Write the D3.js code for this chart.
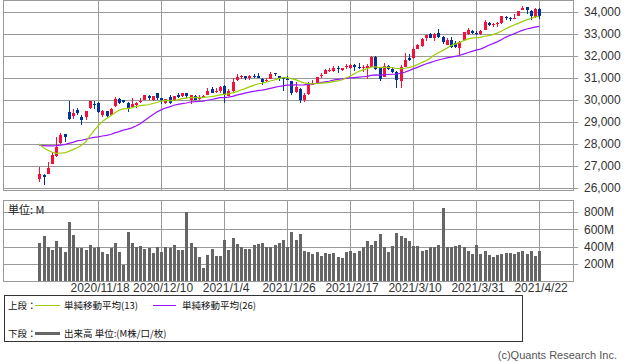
<!DOCTYPE html>
<html>
<head>
<meta charset="utf-8">
<script src="https://cdn.jsdelivr.net/npm/d3@7"></script>
<style>
body { margin: 0; background: #fff; }
svg { display: block; font-family: "Liberation Sans", Arial, sans-serif; }
</style>
</head>
<body>
<div id="chart"></div>
<script>
// trading days shown on the chart
var dates = [
  "2020/10/29", "2020/10/30", "2020/11/2", "2020/11/3", "2020/11/4", "2020/11/5", "2020/11/6", "2020/11/9", "2020/11/10", "2020/11/11",
  "2020/11/12", "2020/11/13", "2020/11/16", "2020/11/17", "2020/11/18", "2020/11/19", "2020/11/20", "2020/11/23", "2020/11/24", "2020/11/25",
  "2020/11/27", "2020/11/30", "2020/12/1", "2020/12/2", "2020/12/3", "2020/12/4", "2020/12/7", "2020/12/8", "2020/12/9", "2020/12/10",
  "2020/12/11", "2020/12/14", "2020/12/15", "2020/12/16", "2020/12/17", "2020/12/18", "2020/12/21", "2020/12/22", "2020/12/23", "2020/12/24",
  "2020/12/28", "2020/12/29", "2020/12/30", "2020/12/31", "2021/1/4", "2021/1/5", "2021/1/6", "2021/1/7", "2021/1/8", "2021/1/11",
  "2021/1/12", "2021/1/13", "2021/1/14", "2021/1/15", "2021/1/19", "2021/1/20", "2021/1/21", "2021/1/22", "2021/1/25", "2021/1/26",
  "2021/1/27", "2021/1/28", "2021/1/29", "2021/2/1", "2021/2/2", "2021/2/3", "2021/2/4", "2021/2/5", "2021/2/8", "2021/2/9",
  "2021/2/10", "2021/2/11", "2021/2/12", "2021/2/16", "2021/2/17", "2021/2/18", "2021/2/19", "2021/2/22", "2021/2/23", "2021/2/24",
  "2021/2/25", "2021/2/26", "2021/3/1", "2021/3/2", "2021/3/3", "2021/3/4", "2021/3/5", "2021/3/8", "2021/3/9", "2021/3/10",
  "2021/3/11", "2021/3/12", "2021/3/15", "2021/3/16", "2021/3/17", "2021/3/18", "2021/3/19", "2021/3/22", "2021/3/23", "2021/3/24",
  "2021/3/25", "2021/3/26", "2021/3/29", "2021/3/30", "2021/3/31", "2021/4/1", "2021/4/5", "2021/4/6", "2021/4/7", "2021/4/8",
  "2021/4/9", "2021/4/12", "2021/4/13", "2021/4/14", "2021/4/15", "2021/4/16", "2021/4/19", "2021/4/20", "2021/4/21", "2021/4/22"
]

var opens = [
  26400, 26580, 26640, 27090, 27470, 28060, 28440, 29470, 29270, 29545,
  29240, 29210, 29650, 29820, 29850, 29320, 29510, 29320, 29730, 30040,
  29990, 29880, 29700, 29790, 29900, 30000, 30200, 29990, 30300, 30070,
  29850, 30150, 29950, 30250, 30200, 30300, 30000, 30200, 30030, 30150,
  30250, 30500, 30350, 30420, 30630, 30200, 30400, 30900, 31040, 31080,
  30990, 31100, 31100, 30950, 30850, 30960, 31220, 31100, 31000, 30970,
  30850, 30350, 30500, 30000, 30260, 30700, 30780, 31120, 31170, 31360,
  31300, 31450, 31380, 31500, 31450, 31600, 31520, 31470, 31450, 31520,
  31960, 31500, 31060, 31560, 31400, 31280, 30850, 31500, 31900, 31900,
  32330, 32450, 32800, 32990, 32800, 33030, 32880, 32500, 32730, 32580,
  32350, 32730, 33000, 33150, 33060, 32990, 33180, 33480, 33420, 33440,
  33510, 33780, 33740, 33690, 33810, 34090, 34210, 34050, 33780, 34140
]

var highs = [
  26963, 26650, 27190, 27640, 28300, 28480, 28460, 29950, 29600, 29620,
  29320, 29520, 29965, 29950, 29900, 29530, 29520, 29630, 30120, 30080,
  30010, 29900, 30080, 29900, 30070, 30220, 30240, 30190, 30320, 30100,
  30060, 30250, 30200, 30300, 30330, 30310, 30230, 30250, 30240, 30230,
  30530, 30600, 30530, 30640, 30670, 30490, 31020, 31190, 31140, 31100,
  31150, 31200, 31220, 30980, 31010, 31260, 31250, 31110, 31050, 31070,
  30880, 30800, 30560, 30300, 30810, 30910, 31060, 31230, 31410, 31440,
  31550, 31530, 31460, 31650, 31650, 31620, 31670, 31580, 31620, 31980,
  32010, 31520, 31660, 31600, 31500, 31300, 31580, 32150, 32090, 32390,
  32550, 32800, 32960, 33050, 33050, 33230, 32900, 32800, 32870, 32700,
  32700, 33100, 33260, 33200, 33150, 33170, 33620, 33560, 33510, 33530,
  33810, 33810, 33760, 33930, 34060, 34260, 34240, 34080, 34160, 34200
]

var lows = [
  26270, 26143, 26640, 27090, 27420, 28000, 28100, 29100, 29150, 29300,
  28860, 29100, 29600, 29580, 29420, 29210, 29230, 29300, 29700, 29800,
  29880, 29450, 29700, 29650, 29880, 29990, 30000, 29950, 29980, 29840,
  29800, 29840, 29940, 30100, 30140, 30100, 29800, 29990, 30020, 30120,
  30240, 30300, 30340, 30340, 29880, 30180, 30350, 30850, 30950, 30890,
  30900, 31020, 30980, 30690, 30800, 30960, 31080, 30860, 30400, 30900,
  30240, 30320, 29860, 29920, 30250, 30660, 30780, 31010, 31160, 31280,
  31290, 31250, 31300, 31420, 31400, 31300, 31410, 31260, 30950, 31480,
  31370, 30860, 31060, 31380, 31230, 30550, 30550, 31500, 31790, 31880,
  32300, 32390, 32670, 32800, 32660, 32830, 32530, 32500, 32380, 32350,
  32030, 32700, 32950, 32990, 32950, 32960, 33180, 33360, 33340, 33330,
  33450, 33640, 33590, 33690, 33800, 34070, 33910, 33630, 33750, 33700
]

var closes = [
  26659, 26501, 26925, 27480, 27847, 28390, 28323, 29158, 29421, 29398,
  29080, 29480, 29950, 29783, 29438, 29483, 29263, 29591, 30046, 29872,
  29910, 29639, 29824, 29884, 29970, 30218, 30070, 30174, 30069, 29999,
  30046, 29862, 30200, 30155, 30303, 30179, 30216, 30016, 30130, 30199,
  30404, 30336, 30410, 30606, 30224, 30392, 30829, 31041, 31098, 31009,
  31069, 31060, 30992, 30814, 30931, 31188, 31176, 30997, 30960, 30937,
  30303, 30603, 29983, 30212, 30687, 30724, 31056, 31148, 31386, 31376,
  31438, 31431, 31458, 31523, 31613, 31493, 31494, 31522, 31537, 31962,
  31402, 30932, 31536, 31392, 31270, 30924, 31496, 31802, 31833, 32297,
  32486, 32779, 32953, 32826, 33015, 32862, 32628, 32731, 32423, 32420,
  32619, 33073, 33171, 33067, 32982, 33153, 33527, 33430, 33446, 33504,
  33801, 33745, 33677, 33731, 34036, 34201, 34078, 33821, 34137, 33816
]

// closes of the 25 sessions before the window, needed for the moving averages
var priorCloses = [
  26815, 27173, 27584, 27452, 27781, 27816, 27682, 28148, 27772, 28303,
  28425, 28586, 28837, 28679, 28514, 28494, 28606, 28195, 28308, 28210,
  28363, 28335, 27685, 27463, 26519
]

// volume, millions
var volumes = [
  435, 516, 389, 354, 458, 400, 331, 689, 539, 377,
  377, 354, 420, 381, 389, 339, 308, 385, 443, 331,
  181, 570, 443, 397, 408, 366, 377, 320, 389, 331,
  400, 377, 420, 354, 354, 801, 443, 397, 281, 146,
  304, 366, 293, 293, 477, 354, 500, 431, 389, 366,
  366, 420, 431, 443, 389, 389, 420, 443, 477, 389,
  570, 470, 547, 350, 339, 308, 339, 293, 323, 312,
  323, 281, 270, 339, 350, 323, 350, 397, 466, 420,
  466, 547, 389, 339, 408, 554, 516, 497, 466, 408,
  404, 350, 362, 389, 393, 416, 847, 389, 389, 408,
  420, 389, 350, 312, 420, 316, 350, 300, 277, 304,
  316, 323, 323, 312, 331, 350, 316, 350, 293, 350
]

var tickDates = ["2020/11/18", "2020/12/10", "2021/1/4", "2021/1/26", "2021/2/17", "2021/3/10", "2021/3/31", "2021/4/22"]
var priceTicks = [26000, 27000, 28000, 29000, 30000, 31000, 32000, 33000, 34000]
var volumeTicks = [200, 400, 600, 800]

var width = 638,
  height = 362,
  left = 4,
  right = 574,
  gridColor = "#999",
  upColor = "#f5103c",
  downColor = "#003399"

var svg = d3
  .select("#chart")
  .append("svg")
  .attr("width", width)
  .attr("height", height)

var x = d3.scalePoint().domain(dates).range([39.3, 539.1])
var y = d3.scaleLinear().domain([26000, 34000]).range([188, 12])
var yv = d3.scaleLinear().domain([0, 800]).range([281, 212])

function sma(n) {
  var all = priorCloses.concat(closes)
  return closes.map(function(c, i) {
    var k = i + priorCloses.length
    return d3.mean(all.slice(k - n + 1, k + 1))
  })
}

/* ------- GRID & AXES -------*/

function styleAxis(g) {
  g.select(".domain").remove()
  g.selectAll("line").attr("stroke", gridColor).attr("shape-rendering", "crispEdges")
  g.selectAll("text").attr("fill", "#333").style("font-size", "12px")
}

svg
  .append("g")
  .attr("transform", "translate(578,0)")
  .call(
    d3
      .axisRight(y)
      .tickValues(priceTicks)
      .tickSize(-574)
      .tickPadding(6)
      .tickFormat(d3.format(","))
  )
  .call(styleAxis)

svg
  .append("g")
  .attr("transform", "translate(578,0)")
  .call(
    d3
      .axisRight(yv)
      .tickValues(volumeTicks)
      .tickSize(-574)
      .tickPadding(6)
      .tickFormat(function(d) {
        return d + "M"
      })
  )
  .call(styleAxis)

var vgrid = svg.append("g").attr("shape-rendering", "crispEdges")
tickDates.forEach(function(d) {
  var xx = Math.round(x(d)) + 0.5
  vgrid.append("line").attr("x1", xx).attr("x2", xx).attr("y1", 1).attr("y2", 190).attr("stroke", gridColor)
  vgrid.append("line").attr("x1", xx).attr("x2", xx).attr("y1", 201).attr("y2", 281).attr("stroke", gridColor)
})

svg
  .selectAll("rect.panel")
  .data([[0.5, 190], [200.5, 281]])
  .enter()
  .append("rect")
  .attr("class", "panel")
  .attr("x", left - 0.5)
  .attr("y", function(d) { return d[0] })
  .attr("width", right - left)
  .attr("height", function(d) { return d[1] - d[0] })
  .attr("fill", "none")
  .attr("stroke", gridColor)
  .attr("shape-rendering", "crispEdges")

svg
  .selectAll("text.date")
  .data(tickDates)
  .enter()
  .append("text")
  .attr("class", "date")
  .attr("x", function(d) { return x(d) + 2 })
  .attr("y", 292)
  .attr("text-anchor", "middle")
  .attr("fill", "#333")
  .style("font-size", "12px")
  .text(function(d) { return d })

/* ------- CANDLES -------*/

var candles = svg
  .append("g")
  .attr("shape-rendering", "crispEdges")
  .selectAll("g")
  .data(dates)
  .enter()
  .append("g")

candles
  .append("line")
  .attr("x1", function(d) { return Math.round(x(d)) + 0.5 })
  .attr("x2", function(d) { return Math.round(x(d)) + 0.5 })
  .attr("y1", function(d, i) { return y(highs[i]) })
  .attr("y2", function(d, i) { return y(lows[i]) })
  .attr("stroke", function(d, i) { return closes[i] >= opens[i] ? upColor : downColor })

candles
  .append("rect")
  .attr("x", function(d) { return Math.round(x(d)) - 1 })
  .attr("width", 3)
  .attr("y", function(d, i) { return y(Math.max(opens[i], closes[i])) })
  .attr("height", function(d, i) { return Math.max(1, Math.abs(y(opens[i]) - y(closes[i]))) })
  .attr("fill", function(d, i) { return closes[i] >= opens[i] ? upColor : downColor })

/* ------- MOVING AVERAGES -------*/

var line = d3
  .line()
  .x(function(d, i) { return x(dates[i]) })
  .y(function(d) { return y(d) })

svg.append("path").attr("d", line(sma(26))).attr("fill", "none").attr("stroke", "#9a12ff").attr("stroke-width", 1.2)
svg.append("path").attr("d", line(sma(13))).attr("fill", "none").attr("stroke", "#9acd00").attr("stroke-width", 1.2)

/* ------- VOLUME -------*/

svg
  .append("g")
  .attr("shape-rendering", "crispEdges")
  .selectAll("rect")
  .data(volumes)
  .enter()
  .append("rect")
  .attr("x", function(d, i) { return Math.round(x(dates[i])) - 1 })
  .attr("width", 3)
  .attr("y", function(d) { return yv(d) })
  .attr("height", function(d) { return yv(0) - yv(d) })
  .attr("fill", "#666")

svg
  .append("text")
  .attr("x", 8)
  .attr("y", 214)
  .style("font-family", "'Noto Sans CJK JP', sans-serif")
  .style("font-size", "11px")
  .attr("fill", "#222")
  .text("単位: M")

/* ------- LEGEND -------*/

var legend = svg
  .append("g")
  .style("font-family", "'Noto Sans CJK JP', sans-serif")
  .style("font-size", "9.5px")
  .attr("fill", "#111")

legend
  .append("rect")
  .attr("x", 4.5)
  .attr("y", 295.5)
  .attr("width", 518)
  .attr("height", 46)
  .attr("fill", "none")
  .attr("stroke", "#333")
  .attr("shape-rendering", "crispEdges")

legend.append("text").attr("x", 8).attr("y", 309).text("上段：")
legend.append("line").attr("x1", 35).attr("x2", 60).attr("y1", 305.5).attr("y2", 305.5).attr("stroke", "#9acd00")
legend.append("text").attr("x", 64).attr("y", 309).text("単純移動平均(13)")
legend.append("line").attr("x1", 153).attr("x2", 176).attr("y1", 305.5).attr("y2", 305.5).attr("stroke", "#9a12ff")
legend.append("text").attr("x", 182).attr("y", 309).text("単純移動平均(26)")

legend.append("text").attr("x", 8).attr("y", 337).text("下段：")
legend.append("line").attr("x1", 35).attr("x2", 60).attr("y1", 333.5).attr("y2", 333.5).attr("stroke", "#666").attr("stroke-width", 3)
legend.append("text").attr("x", 64).attr("y", 337).text("出来高 単位:(M株/口/枚)")

svg
  .append("text")
  .attr("x", 617)
  .attr("y", 359)
  .attr("text-anchor", "end")
  .attr("fill", "#555")
  .style("font-size", "11px")
  .text("(c)Quants Research Inc.")
</script>
</body>
</html>
